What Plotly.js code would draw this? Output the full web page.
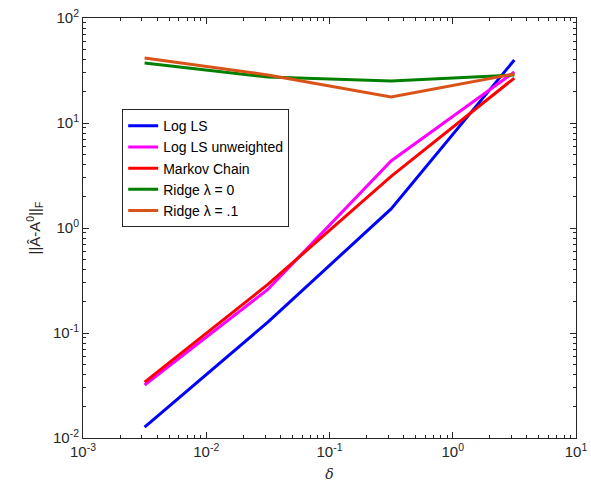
<!DOCTYPE html>
<html><head><meta charset="utf-8">
<script src="https://cdn.plot.ly/plotly-3.0.1.min.js"></script>
<style>body{margin:0;background:#fff}#chart{width:591px;height:489px}</style>
</head><body><div id="chart"></div>
<script>
const delta = [0.00316, 0.0316, 0.316, 3.16];
const logLS = [0.0127, 0.127, 1.52, 39.8];
const logLSunw = [0.032, 0.26, 4.35, 30.6];
const markov = [0.034, 0.29, 3.1, 26.8];
const ridge0 = [37.3, 27.4, 25.1, 28.7];
const ridge01 = [41.6, 28.7, 17.7, 29.3];
const names = ['Log LS', 'Log LS unweighted', 'Markov Chain', 'Ridge λ = 0', 'Ridge λ = .1'];
const colors = ['#0000ff', '#ff00ff', '#ff0000', '#008000', '#d95319'];
const series = [logLS, logLSunw, markov, ridge0, ridge01];

const xMajor = [1e-3, 1e-2, 1e-1, 1, 10];
const xMajorText = ['10<sup>-3</sup>', '10<sup>-2</sup>', '10<sup>-1</sup>', '10<sup>0</sup>', '10<sup>1</sup>'];
const yMajor = [1e-2, 1e-1, 1, 10, 100];
const yMajorText = ['10<sup>-2</sup>', '10<sup>-1</sup>', '10<sup>0</sup>', '10<sup>1</sup>', '10<sup>2</sup>'];

function minors(lo, hi) {
  const out = [];
  for (let e = lo; e < hi; e++) for (let m = 2; m <= 9; m++) out.push(m * Math.pow(10, e));
  return out;
}

const traces = series.map((s, i) => ({
  x: delta, y: s, type: 'scatter', mode: 'lines', name: names[i],
  line: {color: colors[i], width: 3}
}));

const axisCommon = {
  type: 'log', showgrid: false, zeroline: false, showline: true, linecolor: '#262626', linewidth: 1,
  mirror: 'ticks', ticks: 'inside', ticklen: 6, tickcolor: '#262626', tickmode: 'array',
  tickfont: {family: 'Liberation Sans, Arial, sans-serif', size: 15, color: '#262626'}
};

const layout = {
  width: 591, height: 489,
  margin: {l: 83, r: 15, t: 18, b: 51},
  paper_bgcolor: '#fff', plot_bgcolor: '#fff',
  showlegend: true,
  legend: {x: 0.0795, y: 0.783, xanchor: 'left', yanchor: 'top', bgcolor: '#fff',
    bordercolor: '#262626', borderwidth: 1,
    font: {family: 'Liberation Sans, Arial, sans-serif', size: 14, color: '#000'},
    tracegroupgap: 0, itemwidth: 30},
  xaxis: Object.assign({}, axisCommon, {
    range: [-3, 1], tickvals: xMajor, ticktext: xMajorText,
    minor: {tickmode: 'array', tickvals: minors(-3, 1), ticks: 'inside', ticklen: 3, tickcolor: '#262626'},
    title: {text: '<i>δ</i>', font: {family: 'DejaVu Serif, serif', size: 14, color: '#262626'}, standoff: 10}
  }),
  yaxis: Object.assign({}, axisCommon, {
    range: [-2, 2], tickvals: yMajor, ticktext: yMajorText,
    minor: {tickmode: 'array', tickvals: minors(-2, 2), ticks: 'inside', ticklen: 3, tickcolor: '#262626'},
    title: {text: '||Â-A<sup>0</sup>||<sub>F</sub>', font: {family: 'Liberation Sans, Arial, sans-serif', size: 15, color: '#262626'}, standoff: 8}
  })
};

Plotly.newPlot('chart', traces, layout, {displayModeBar: false, staticPlot: true});
</script></body></html>
